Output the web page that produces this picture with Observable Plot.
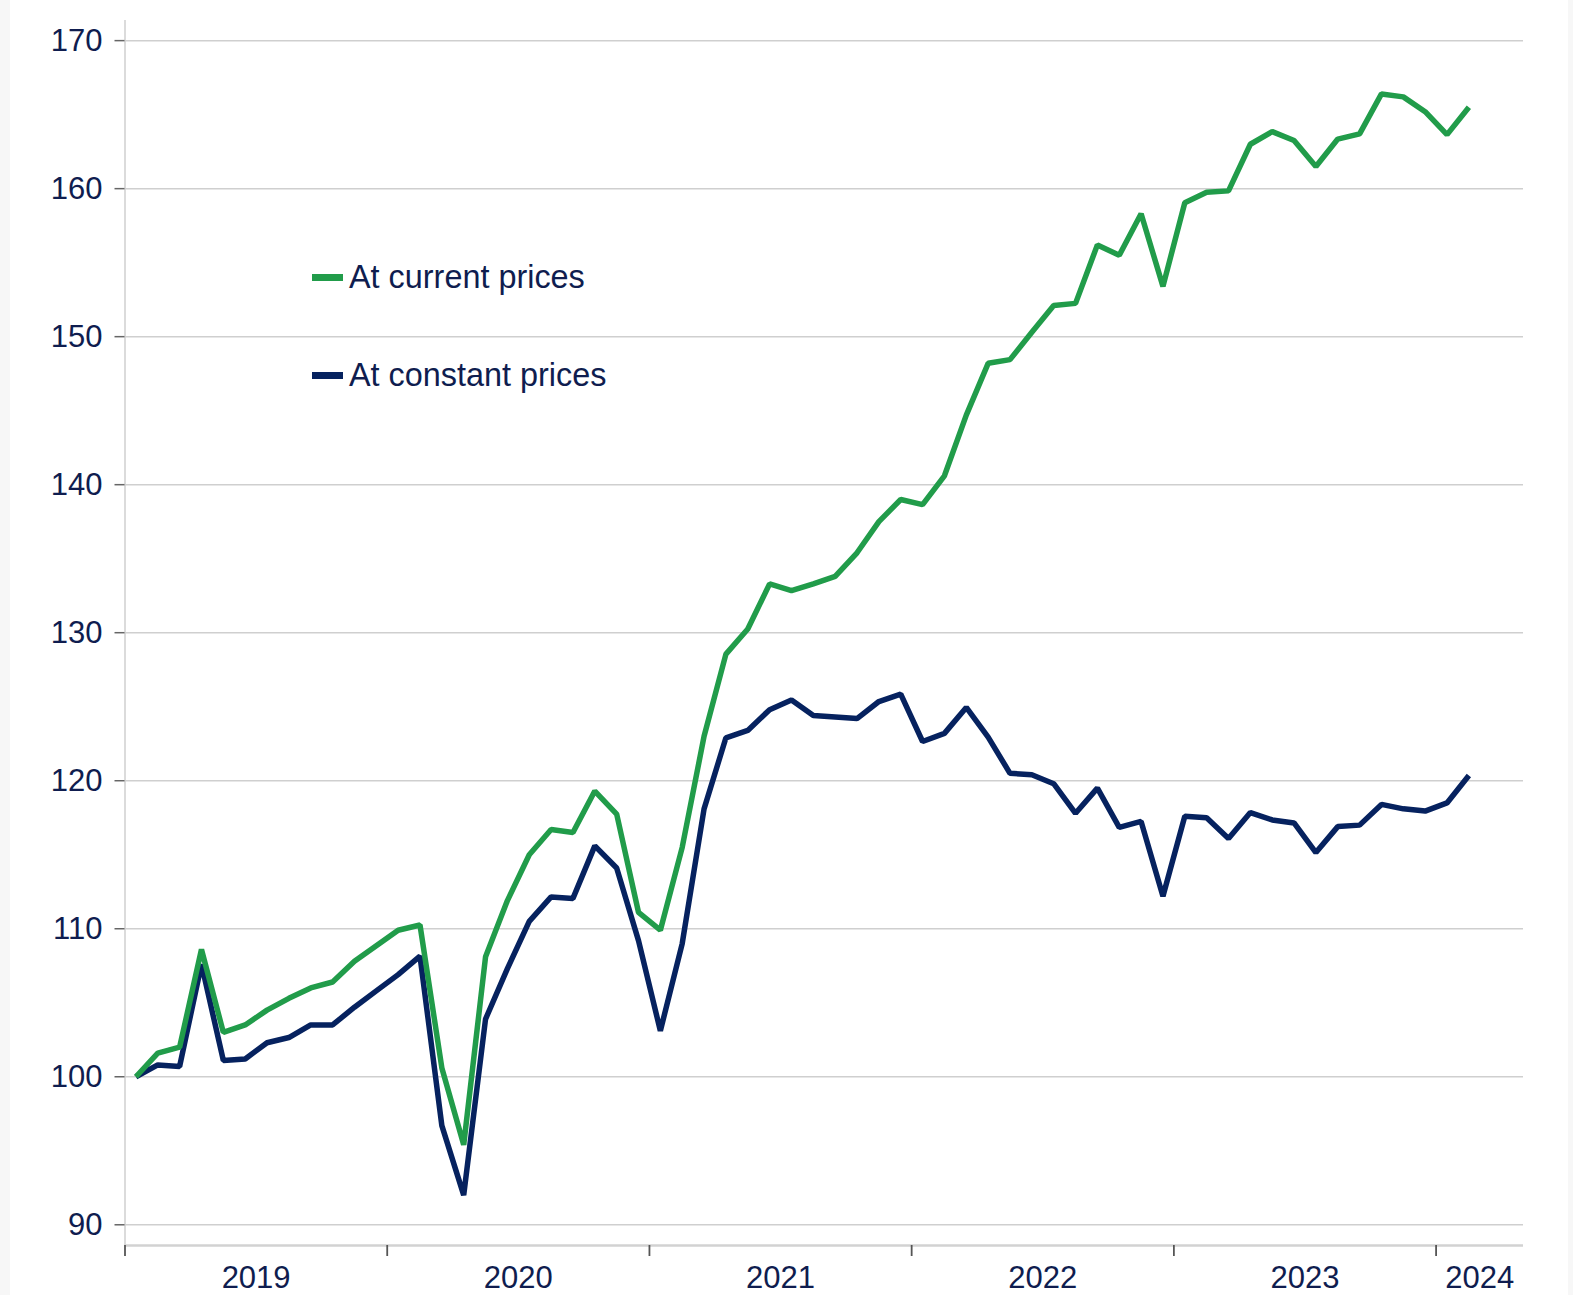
<!DOCTYPE html>
<html>
<head>
<meta charset="utf-8">
<script src="https://cdn.jsdelivr.net/npm/d3@7"></script>
<script src="https://cdn.jsdelivr.net/npm/@observablehq/plot@0.6"></script>
<style>
  html, body { margin: 0; padding: 0; background: #ffffff; }
  #wrap { position: relative; width: 1573px; height: 1295px; overflow: hidden;
          font-family: "Liberation Sans", Arial, sans-serif; background: #ffffff; }
  .strip { position: absolute; top: 0; bottom: 0; background: #f7f7f7; }
  #chart { position: absolute; left: 0; top: 0; }
  .sw { position: absolute; left: 312px; width: 31px; height: 6.5px; }
  .lt { position: absolute; left: 349px; font-size: 32.4px; line-height: 32px; color: #0f1d4f; white-space: nowrap; }
</style>
</head>
<body>
<div id="wrap">
  <div class="strip" style="left:0;width:10px"></div>
  <div class="strip" style="left:1568px;width:5px"></div>
  <div id="chart"></div>
  <div id="legend"></div>
</div>
<script>
// ---- data (monthly index, Jan 2019 = 100) ----
const months = d3.utcMonth.range(new Date(Date.UTC(2019, 0, 1)), new Date(Date.UTC(2024, 2, 1)))
  .map(d => d3.utcFormat("%Y-%m")(d));

const currentPrices = [
  100.0, 101.6, 102.0, 108.6, 103.0, 103.5, 104.5, 105.3, 106.0, 106.4, 107.8, 108.85,
  109.9, 110.25, 100.6, 95.4, 108.1, 111.9, 115.0, 116.7, 116.5, 119.3, 117.75, 111.1,
  109.9, 115.5, 123.0, 128.55, 130.25, 133.3, 132.85, 133.3, 133.8, 135.4, 137.5, 139.0,
  138.65, 140.6, 144.7, 148.2, 148.45, 150.3, 152.1, 152.25, 156.2, 155.5, 158.3, 153.4,
  159.05, 159.75, 159.85, 163.0, 163.85, 163.25, 161.5, 163.35, 163.7, 166.4, 166.2, 165.2,
  163.65, 165.5
];

const constantPrices = [
  100.0, 100.8, 100.7, 107.6, 101.1, 101.2, 102.3, 102.65, 103.5, 103.5, 104.7, 105.8,
  106.9, 108.15, 96.7, 92.0, 103.9, 107.3, 110.5, 112.15, 112.05, 115.6, 114.1, 109.2,
  103.1, 109.0, 118.1, 122.9, 123.4, 124.8, 125.45, 124.4, 124.3, 124.2, 125.35, 125.85,
  122.65, 123.2, 124.95, 122.95, 120.5, 120.4, 119.8, 117.8, 119.5, 116.85, 117.25, 112.2,
  117.6, 117.5, 116.1, 117.85, 117.35, 117.15, 115.15, 116.9, 117.0, 118.4, 118.1, 117.95,
  118.5, 120.35
];

const seriesNames = ["At current prices", "At constant prices"];
const seriesColors = ["#219c4a", "#06225f"];

const yTicks = [90, 100, 110, 120, 130, 140, 150, 160, 170];
const yDomain = [88.6, 171.36];
const xDomain = [0, 64];               // months since Jan 2019
const yearTicks = [0, 12, 24, 36, 48, 60];
const yearLabelPos = [6, 18, 30, 42, 54, 62];
const yearLabels = ["2019", "2020", "2021", "2022", "2023", "2024"];

// ---- build table ----
const data = months.map((m, i) => ({
  month: m, x: i + 0.5, current: currentPrices[i], constant: constantPrices[i]
}));
const labelMap = new Map(yearLabelPos.map((p, i) => [p, yearLabels[i]]));

const textColor = "#0f1d4f";
const chart = Plot.plot({
  width: 1573,
  height: 1295,
  marginLeft: 124.5,
  marginRight: 50,
  marginTop: 20,
  marginBottom: 50,
  style: { background: "transparent", fontFamily: "'Liberation Sans', Arial, sans-serif", fontSize: "31px", color: textColor, overflow: "visible" },
  x: { type: "linear", domain: xDomain },
  y: { domain: yDomain },
  marks: [
    Plot.gridY(yTicks, { stroke: "#cfcfcf", strokeOpacity: 1, strokeWidth: 1.5 }),
    Plot.ruleX([xDomain[0]], { stroke: "#cfcfcf", strokeWidth: 1.5 }),
    Plot.ruleY([yDomain[0]], { stroke: "#d2d2d2", strokeWidth: 2.5 }),
    Plot.axisY(yTicks, { tickSize: 10, tickPadding: 12.5, stroke: "#666", strokeWidth: 1.5, fill: textColor, fontSize: 31, label: null }),
    Plot.axisX(yearTicks, { tickSize: 11, tickFormat: () => "", stroke: "#555", strokeWidth: 1.8, label: null }),
    Plot.axisX(yearLabelPos, { tickSize: 0, tickPadding: 20, tickFormat: d => labelMap.get(d), fill: textColor, fontSize: 31, label: null }),
    Plot.line(data, { x: "x", y: "constant", stroke: seriesColors[1], strokeWidth: 5.5, strokeLinejoin: "miter", strokeLinecap: "butt" }),
    Plot.line(data, { x: "x", y: "current", stroke: seriesColors[0], strokeWidth: 5.5, strokeLinejoin: "miter", strokeLinecap: "butt" })
  ]
});
document.getElementById("chart").appendChild(chart);

// ---- legend (inside plot area, upper left) ----
const legend = document.getElementById("legend");
const legendTops = [274, 372];
const legendTextTops = [261, 359];
seriesNames.forEach((name, i) => {
  const sw = document.createElement("div");
  sw.className = "sw";
  sw.style.top = legendTops[i] + "px";
  sw.style.background = seriesColors[i];
  legend.appendChild(sw);
  const t = document.createElement("div");
  t.className = "lt";
  t.style.top = legendTextTops[i] + "px";
  t.textContent = name;
  legend.appendChild(t);
});
</script>
</body>
</html>
